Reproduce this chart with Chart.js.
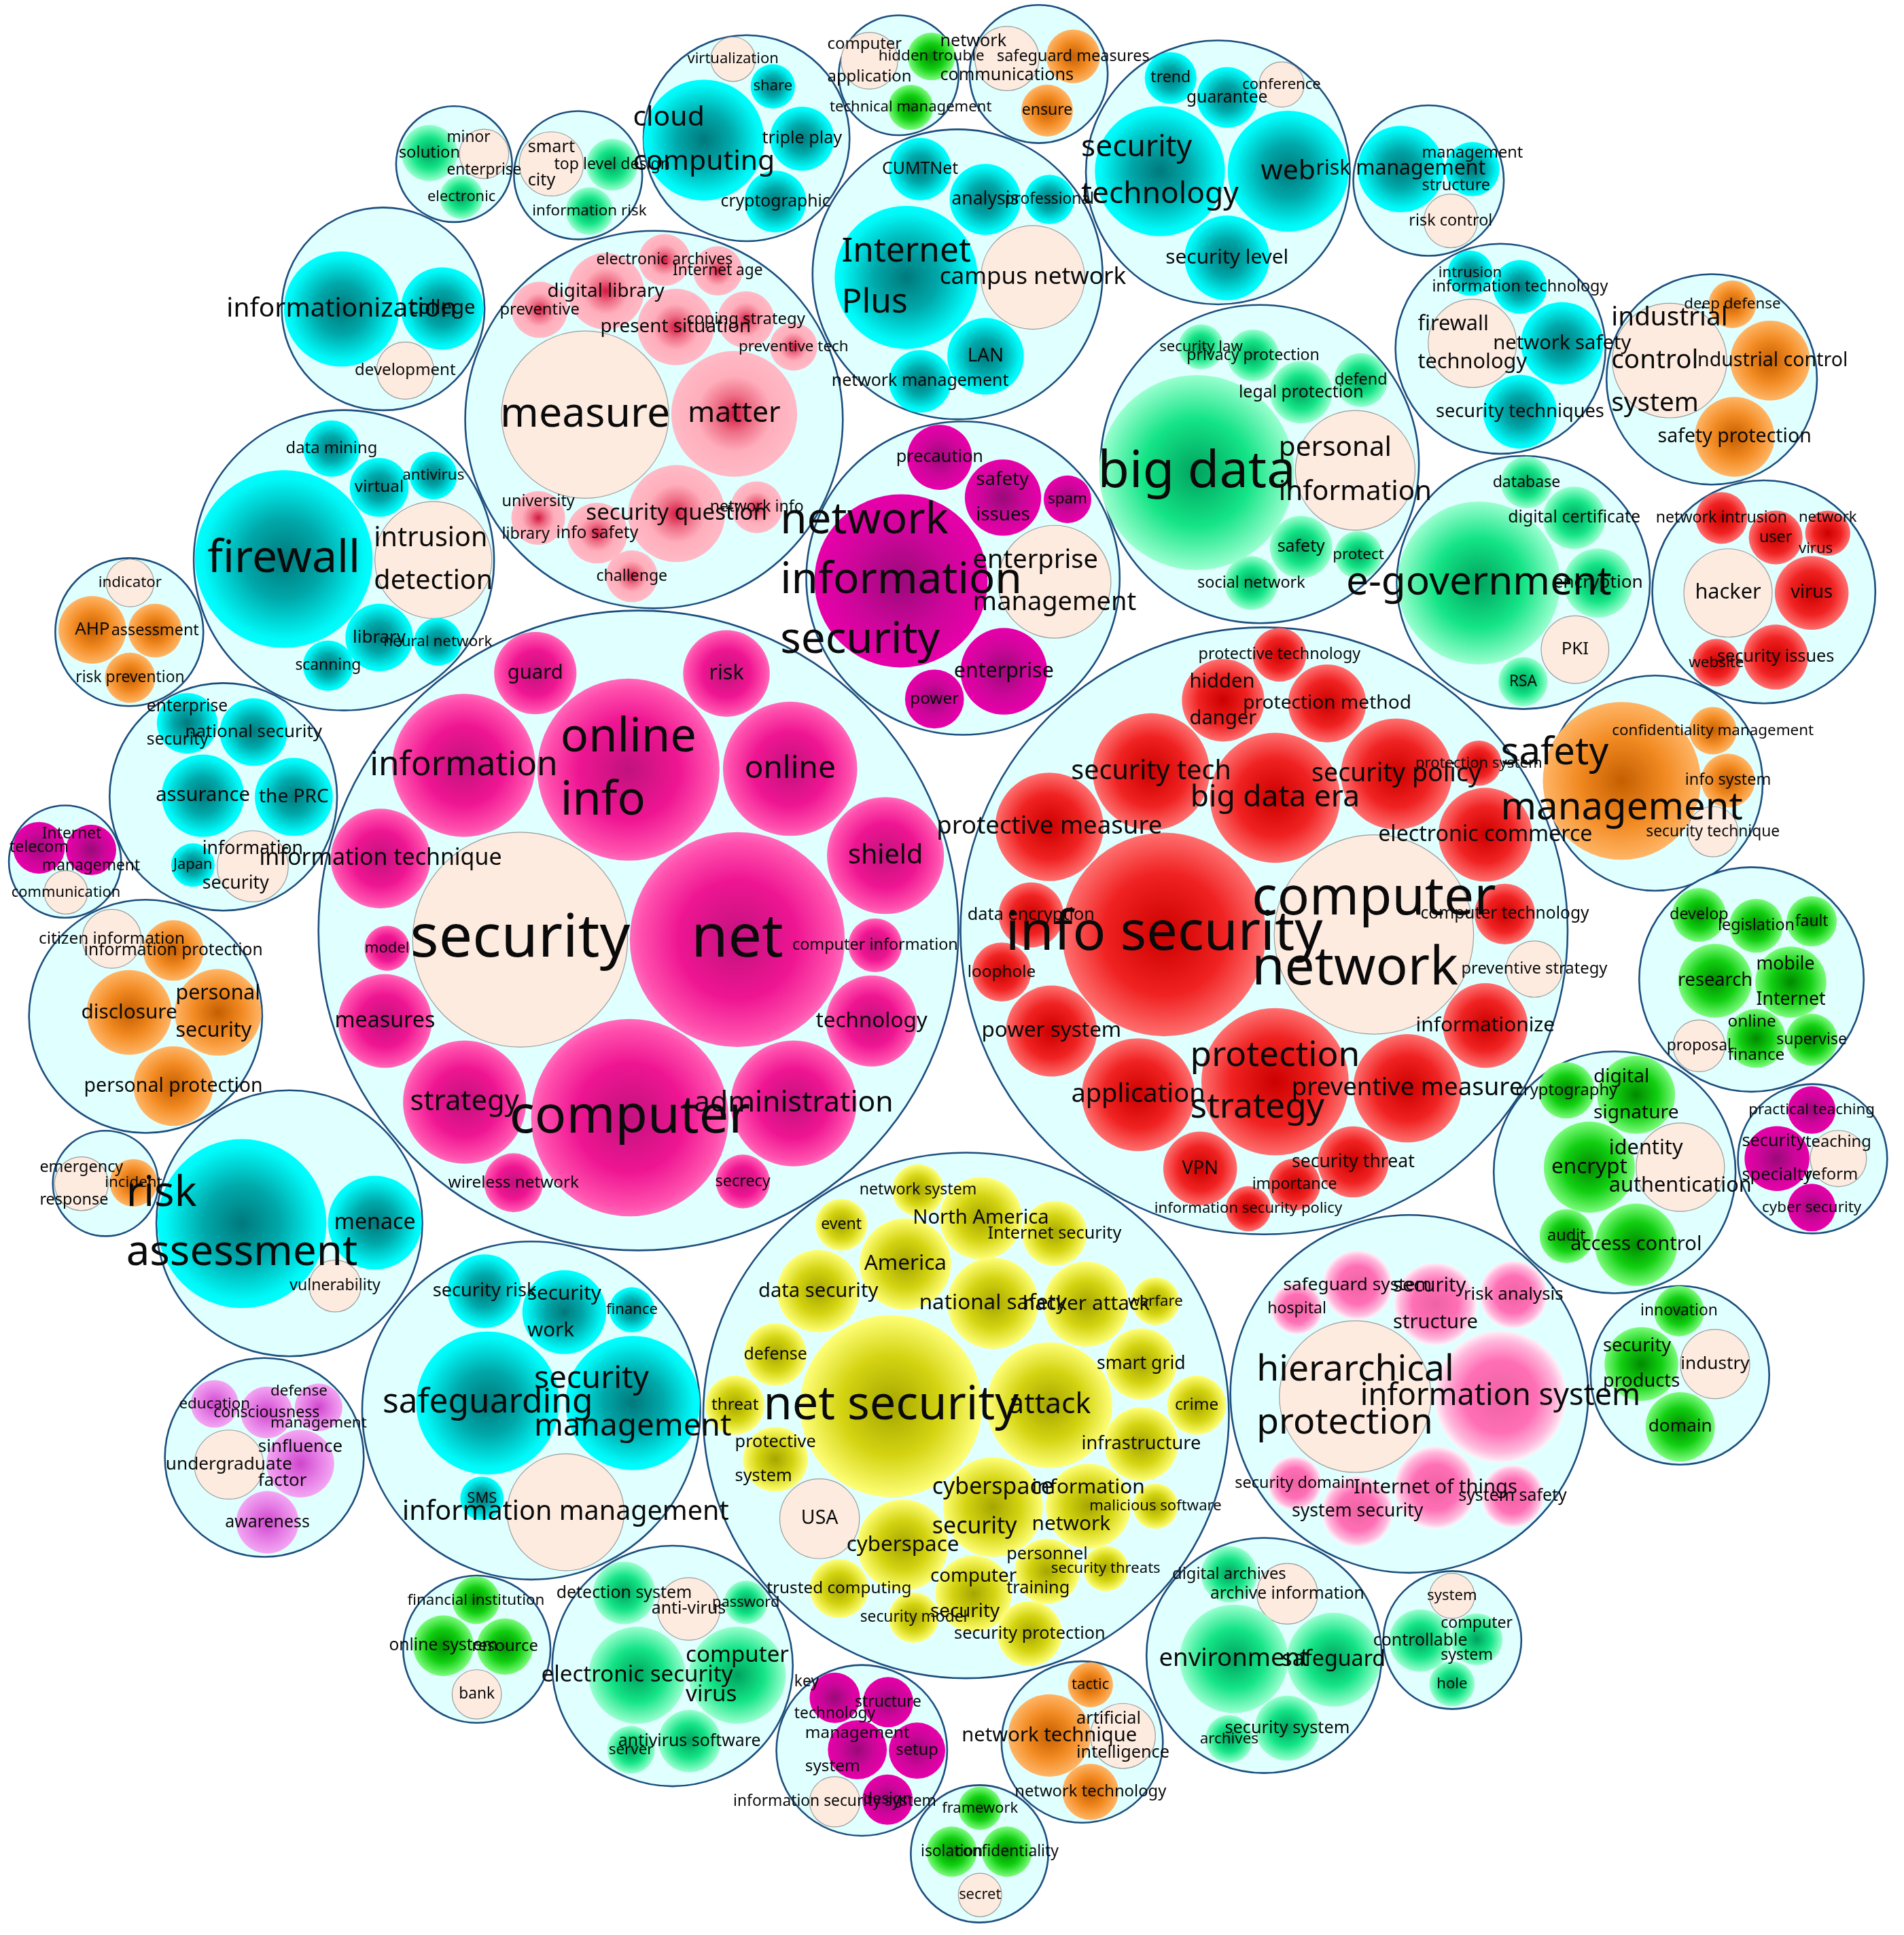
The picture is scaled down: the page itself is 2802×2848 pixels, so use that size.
<!DOCTYPE html>
<html>
<head>
<meta charset="utf-8">
<title>Keyword clusters</title>
<script src="https://cdn.jsdelivr.net/npm/chart.js@4.4.1/dist/chart.umd.min.js"></script>
<style>
  html, body { margin: 0; padding: 0; background: #fff; }
  #wrap { width: 2802px; height: 2848px; }
</style>
</head>
<body>
<div id="wrap"><canvas id="bubbleChart"></canvas></div>
<script>
// plot units: the picture read at 1543 x 1568
const X_RANGE = 1543;
const Y_RANGE = 1568;

// outer circles (one per cluster)
const clusterX = [368, 468.5, 605, 728.3, 841.7, 987, 1157.7, 776, 530, 278.7, 310.5, 104.8, 181, 52.7, 118, 85.5, 234.5, 214.2, 430.5, 386.4, 545, 698.4, 793.8, 877, 782.9, 780.4, 1020.9, 1234.5, 1429.4, 1216, 1387.2, 1024.4, 1341.3, 1419.4, 1308.5, 1468.9, 1142.1, 1361.4, 1024.4, 1177, 517.4];
const clusterY = [133, 142, 112, 61, 60, 139.7, 146.3, 222.3, 340, 454, 250.3, 512.2, 645.7, 698.2, 823.6, 959, 991.3, 1181, 1143, 1336.4, 1350, 1418.4, 1502.2, 1411.6, 1147, 468.5, 376, 472, 479.6, 282.6, 307.4, 754.3, 634.6, 793.7, 950, 939, 1129.5, 1114.5, 1341.5, 1329, 754];
const clusterR = [47, 52, 83.5, 48.6, 56, 107, 61, 117.5, 153, 121.7, 82.2, 60, 92.2, 45.5, 94.5, 42.7, 107.8, 80.6, 137, 59.7, 97.5, 69.2, 55.7, 65.4, 213, 127, 129, 102.6, 90.4, 85.1, 85.3, 246, 87.2, 91, 98, 60.5, 145, 72.4, 95.3, 55.9, 259.3];
const clusterTheme = ['spring', 'spring', 'cyan', 'green', 'orange', 'cyan', 'cyan', 'cyan', 'lightpink', 'cyan', 'cyan', 'orange', 'cyan', 'magenta', 'orange', 'orange', 'cyan', 'violet', 'cyan', 'green', 'spring', 'magenta', 'green', 'orange', 'yellow', 'magenta', 'spring', 'spring', 'red', 'cyan', 'orange', 'red', 'orange', 'green', 'green', 'magenta', 'hotpink', 'green', 'spring', 'spring', 'deeppink'];
// index of the highlighted (pale) keyword inside each cluster
const clusterHubs = [[1], [0], [1], [0], [0], [4], [2], [1], [0], [1], [2], [0], [5], [2], [0], [0], [2], [3], [6], [3], [3], [5], [3], [2], [17], [4], [1], [4], [3], [2], [0], [1, 14], [3], [5], [3], [2], [0], [2], [1], [0], [0]];

// keywords, one row per cluster
const termLabel = [
  ['solution', 'minor\nenterprise', 'electronic'],
  ['smart\ncity', 'top level design', 'information risk'],
  ['cloud\ncomputing', 'virtualization', 'share', 'triple play', 'cryptographic'],
  ['computer\napplication', 'hidden trouble', 'technical management'],
  ['network\ncommunications', 'safeguard measures', 'ensure'],
  ['security\ntechnology', 'web', 'trend', 'guarantee', 'conference', 'security level'],
  ['risk management', 'management\nstructure', 'risk control'],
  ['Internet\nPlus', 'campus network', 'CUMTNet', 'analysis', 'professional', 'LAN', 'network management'],
  ['measure', 'matter', 'digital library', 'electronic archives', 'Internet age', 'preventive', 'present situation', 'coping strategy', 'preventive tech', 'university\nlibrary', 'info safety', 'security question', 'network info', 'challenge'],
  ['firewall', 'intrusion\ndetection', 'data mining', 'virtual', 'antivirus', 'library', 'neural network', 'scanning'],
  ['informationization', 'college', 'development'],
  ['indicator', 'AHP', 'assessment', 'risk prevention'],
  ['enterprise\nsecurity', 'national security', 'assurance', 'the PRC', 'Japan', 'information\nsecurity'],
  ['telecom', 'Internet\nmanagement', 'communication'],
  ['citizen information', 'information protection', 'disclosure', 'personal\nsecurity', 'personal protection'],
  ['emergency\nresponse', 'incident'],
  ['risk\nassessment', 'menace', 'vulnerability'],
  ['education', 'consciousness', 'defense\nmanagement', 'undergraduate', 'sinfluence\nfactor', 'awareness'],
  ['safeguarding', 'security\nmanagement', 'security risk', 'security\nwork', 'finance', 'SMS', 'information management'],
  ['financial institution', 'online system', 'resource', 'bank'],
  ['electronic security', 'computer\nvirus', 'detection system', 'anti-virus', 'password', 'server', 'antivirus software'],
  ['key\ntechnology', 'structure', 'management\nsystem', 'setup', 'design', 'information security system'],
  ['framework', 'isolation', 'confidentiality', 'secret'],
  ['network technique', 'tactic', 'artificial\nintelligence', 'network technology'],
  ['net security', 'attack', 'America', 'network system', 'event', 'North America', 'Internet security', 'data security', 'national safety', 'hacker attack', 'warfare', 'defense', 'smart grid', 'threat', 'crime', 'protective\nsystem', 'infrastructure', 'USA', 'cyberspace\nsecurity', 'information\nnetwork', 'malicious software', 'cyberspace', 'personnel\ntraining', 'security threats', 'trusted computing', 'computer\nsecurity', 'security model', 'security protection'],
  ['network\ninformation\nsecurity', 'precaution', 'safety\nissues', 'spam', 'enterprise\nmanagement', 'enterprise', 'power'],
  ['big data', 'personal\ninformation', 'security law', 'privacy protection', 'legal protection', 'defend', 'safety', 'protect', 'social network'],
  ['e-government', 'database', 'digital certificate', 'encryption', 'PKI', 'RSA'],
  ['network intrusion', 'user', 'network\nvirus', 'hacker', 'virus', 'website', 'security issues'],
  ['intrusion', 'information technology', 'firewall\ntechnology', 'network safety', 'security techniques'],
  ['industrial\ncontrol\nsystem', 'deep defense', 'industrial control', 'safety protection'],
  ['info security', 'computer\nnetwork', 'protective technology', 'hidden\ndanger', 'protection method', 'security tech', 'big data era', 'security policy', 'protection system', 'protective measure', 'electronic commerce', 'data encryption', 'computer technology', 'loophole', 'preventive strategy', 'power system', 'informationize', 'protection\nstrategy', 'preventive measure', 'application', 'security threat', 'VPN', 'importance', 'information security policy'],
  ['safety\nmanagement', 'confidentiality management', 'info system', 'security technique'],
  ['develop', 'legislation', 'fault', 'research', 'mobile\nInternet', 'proposal', 'online\nfinance', 'supervise'],
  ['cryptography', 'digital\nsignature', 'encrypt', 'identity\nauthentication', 'audit', 'access control'],
  ['practical teaching', 'security\nspecialty', 'teaching\nreform', 'cyber security'],
  ['hierarchical\nprotection', 'information system', 'safeguard system', 'hospital', 'security\nstructure', 'risk analysis', 'security domain', 'Internet of things', 'system safety', 'system security'],
  ['innovation', 'security\nproducts', 'industry', 'domain'],
  ['digital archives', 'archive information', 'environment', 'safeguard', 'archives', 'security system'],
  ['system', 'controllable', 'computer\nsystem', 'hole'],
  ['security', 'net', 'online\ninfo', 'information', 'guard', 'risk', 'online', 'information technique', 'shield', 'model', 'computer information', 'measures', 'technology', 'strategy', 'computer', 'administration', 'wireless network', 'secrecy']
];
const termX = [
  [348, 392.3, 374],
  [446.8, 496, 477.7],
  [570.4, 594, 626.3, 650, 628.4],
  [704.6, 754.8, 738],
  [816, 869.7, 848.6],
  [940, 1043.9, 948.7, 994.4, 1038.6, 994.4],
  [1135.2, 1193.2, 1175.6],
  [734.4, 837, 745.7, 798.4, 850.4, 798.7, 745.7],
  [474.2, 595, 491, 538.5, 581.7, 437.3, 547.6, 604.5, 643.1, 436.2, 484, 548.3, 613.3, 512],
  [230, 351.2, 268.7, 307.3, 351.2, 307.3, 354.8, 265.9],
  [276.8, 358.3, 328.4],
  [105.4, 74.8, 125.7, 105.4],
  [151.7, 205.5, 164.4, 238.1, 156.3, 204.8],
  [31.6, 73.8, 53.4],
  [90.6, 140.5, 104.7, 176.7, 140.5],
  [66, 108.2],
  [196, 303.8, 271.5],
  [173.9, 216, 258.2, 185.5, 243.4, 216.7],
  [395.2, 512.8, 392.7, 457.3, 512.1, 390.6, 458.4],
  [385.7, 359.3, 409.2, 386.4],
  [516.3, 597.5, 505.8, 558.1, 604.5, 511.4, 558.8],
  [676.5, 719.7, 694.8, 743.2, 719.3, 676.5],
  [794.2, 771.3, 816, 794.2],
  [850.4, 883.7, 910, 883.7],
  [722.1, 850.4, 733.7, 744, 681.8, 794.9, 854.6, 663.1, 804.7, 880.2, 936.4, 628.4, 924.8, 595.7, 969.8, 628.4, 924.8, 664.2, 804.7, 882, 936.4, 731.6, 848.6, 896.1, 680, 788.9, 740.4, 834.5],
  [730.2, 761.5, 812.8, 865.1, 854.6, 813.5, 757.3],
  [969.8, 1098.3, 973.3, 1015.5, 1054.4, 1102.9, 1054.4, 1100.8, 1014],
  [1198.4, 1237.1, 1275.7, 1295, 1276.4, 1234.3],
  [1395.1, 1439, 1481.2, 1400.4, 1468.2, 1390.9, 1439],
  [1191.4, 1231.8, 1193.2, 1265.9, 1231.8],
  [1353, 1403.9, 1434.5, 1405.7],
  [943.4, 1113.4, 1036.9, 991.2, 1075.5, 932.9, 1033.3, 1131.7, 1198.4, 850.4, 1203.7, 835.6, 1219.5, 811.7, 1243.4, 852.1, 1203.7, 1033.3, 1140.5, 922.4, 1096.6, 972.6, 1049.1, 1011.6],
  [1314.3, 1388.1, 1400.4, 1388.1],
  [1376.9, 1423.2, 1468.2, 1389.9, 1451.3, 1376.9, 1423.2, 1468.2],
  [1269.5, 1325.9, 1288, 1361.7, 1269.5, 1325.9],
  [1468.2, 1440.1, 1489.8, 1468.2],
  [1098.3, 1215.9, 1100.1, 1051, 1163.3, 1226.5, 1049.3, 1163.3, 1225.8, 1100.1],
  [1360.7, 1330.2, 1389.9, 1361.7],
  [996.1, 1043.2, 1000, 1080.8, 996.1, 1043.2],
  [1176.7, 1151, 1196.7, 1176.7],
  [421.5, 597.5, 509.3, 375.8, 433.8, 588.7, 640.3, 308.4, 717.6, 313.7, 709.2, 311.9, 706.3, 376.5, 510.4, 643.1, 416.2, 602]
];
const termY = [
  [124, 124.7, 159.8],
  [132.8, 133.5, 171],
  [113.5, 48, 70, 112.4, 163.3],
  [49.2, 45.7, 87],
  [47.4, 45.7, 89.6],
  [138.7, 138.7, 63.2, 79, 68.5, 209],
  [137, 137, 179],
  [224.8, 224.8, 137, 161.6, 161.6, 288.7, 309],
  [336, 335.4, 236, 210.7, 219.5, 251, 265, 259, 281, 419.7, 432, 416.2, 411, 467],
  [453, 453.8, 363.5, 395, 385.3, 516.6, 520.1, 539.4],
  [250.4, 250, 300.3],
  [472.4, 510.4, 511, 549.2],
  [586.1, 593.2, 644.8, 645.8, 701, 702],
  [687, 688.7, 723.1],
  [760.7, 770.2, 820.4, 820.4, 880.1],
  [959.2, 958.5],
  [991.5, 990.8, 1042.1],
  [1137.6, 1144.6, 1140.4, 1186.8, 1186.1, 1233.5],
  [1136.9, 1136.9, 1046.3, 1063.2, 1061.4, 1214.2, 1225.4],
  [1296.7, 1333.6, 1334.3, 1373],
  [1357.5, 1357.5, 1290.8, 1303.8, 1298.5, 1417.9, 1410.9],
  [1375.8, 1379.3, 1417.9, 1418.6, 1458.3, 1460],
  [1465.3, 1500.5, 1500.5, 1535.6],
  [1406.3, 1365.2, 1406.7, 1452],
  [1139.4, 1138.7, 1024.3, 964.4, 992.5, 987.2, 999.5, 1046.3, 1056.1, 1056.8, 1054.4, 1097.6, 1105.3, 1138.7, 1138.7, 1182.6, 1170.3, 1230.7, 1221.2, 1220.5, 1220.5, 1252.1, 1273.2, 1271.1, 1287.3, 1291.5, 1310.8, 1323.8],
  [470.7, 370.6, 403.2, 404.6, 471.4, 544, 566.5],
  [382.9, 381.1, 281, 288, 317.9, 308, 443.3, 449.6, 472.4],
  [472.4, 390.9, 419.7, 472.4, 526.4, 552.4],
  [419.7, 435.6, 432, 480.5, 480.5, 537, 532.4],
  [221.3, 232.5, 278.2, 278.2, 333.7],
  [292.2, 246.6, 292.2, 354],
  [757.2, 757.2, 530.6, 567.5, 570, 625.4, 646.5, 627.2, 618.4, 670, 676.4, 741.4, 740.7, 787.7, 785.3, 835.5, 831, 876.6, 881.9, 887.1, 941.5, 946.9, 959.8, 979.5],
  [632.8, 592.1, 632.5, 673.9],
  [741.4, 750.2, 746.6, 794.8, 795.8, 847.5, 841.5, 842.5],
  [883.6, 887.1, 945.8, 945.8, 1001.7, 1008.7],
  [899.5, 938.8, 938.8, 978.5],
  [1131.7, 1131.7, 1041.4, 1060.4, 1056.8, 1049.1, 1201.9, 1205.4, 1212.4, 1224.7],
  [1062.5, 1105.3, 1105.3, 1156.2],
  [1275.7, 1291.5, 1344.2, 1344.9, 1409.1, 1400.4],
  [1293.2, 1329.4, 1328.4, 1364.5],
  [761.4, 761.4, 623.7, 620.2, 545.4, 545.7, 623, 695.7, 693.3, 768.4, 766, 827.4, 827.4, 893.1, 905.7, 894.2, 958.4, 957.4]
];
const termR = [
  [22.8, 20, 17.6],
  [26, 21, 19.3],
  [49, 18, 18, 26, 25],
  [23, 19.3, 18.3],
  [26, 21.8, 21],
  [52.7, 49, 21, 24.6, 18.3, 34.4],
  [35, 22, 21.8],
  [58, 42, 25.3, 28.8, 20, 31, 25.3],
  [67.8, 51, 31, 21, 20, 22.8, 31, 23, 19.3, 21.8, 24.6, 39.3, 21, 21],
  [72, 47.4, 22.8, 23.9, 19.3, 27.4, 19.3, 20.4],
  [46.7, 33.4, 23.2],
  [19.3, 27.4, 21.8, 20.4],
  [24.6, 27.4, 33.4, 31.6, 17.6, 28.8],
  [21, 20.4, 17.6],
  [23.9, 24.6, 34.4, 35.1, 32.3],
  [21.8, 19.3],
  [68.5, 38, 21],
  [19.3, 21, 19.3, 28, 27.4, 25.3],
  [58, 54.4, 29.9, 34, 18.3, 17.6, 47.4],
  [19.3, 24.6, 22.8, 20],
  [39.3, 39.3, 25.3, 25.3, 17.6, 19.3, 25.3],
  [20.4, 20.4, 23.9, 22.8, 20.4, 20.4],
  [17.6, 20.4, 20.4, 17.6],
  [33.4, 18.3, 26.3, 22.8],
  [73.8, 51, 37, 21, 21, 33.4, 26.3, 33.4, 36.9, 34.4, 19.3, 25.3, 28.8, 23.9, 23.9, 26.3, 29.9, 32.3, 40.4, 34.4, 18.3, 36.9, 26.3, 18.3, 23.9, 30.9, 20.4, 26.3],
  [70.2, 26.3, 30.9, 19.3, 45.7, 35.1, 23.9],
  [79, 48.5, 18.3, 21, 25.3, 21.8, 25.3, 19.3, 21.8],
  [66, 21, 25.3, 28, 27.4, 20],
  [21, 21.8, 18.3, 35.8, 29.9, 19.3, 26.3],
  [18.3, 21.8, 35.8, 33.4, 29.9],
  [46.4, 19.3, 32.3, 32.3],
  [82.5, 80.8, 21.8, 33.4, 31.6, 47.4, 52.7, 45, 18.3, 43.9, 38, 26.3, 24.6, 23.9, 22.8, 36.9, 34.4, 59.7, 43.9, 45.7, 28.8, 29.9, 21, 18.3],
  [64, 19.3, 21.8, 20.4],
  [21.8, 21.8, 20.4, 29.9, 28.8, 21, 23.9, 21],
  [22.8, 31.6, 36.9, 35.8, 21.8, 33.4],
  [19.3, 26.3, 22.8, 19.3],
  [61.5, 53.4, 28.1, 21, 33.4, 27.4, 21.8, 33.4, 25.3, 28.8],
  [20.4, 29.9, 28.1, 28.1],
  [22.8, 24.6, 43.9, 38, 19.3, 26.3],
  [18.3, 25.3, 21, 18.3],
  [87.1, 87.1, 73.8, 58, 33.4, 35.1, 54.4, 40.4, 47.4, 18.3, 21.8, 38, 36.9, 49.9, 80, 51, 23.9, 21.8]
];

// colour ramps: centre -> rim
const THEMES = {
  cyan:      [[0, '#00797c'], [0.45, '#00a8aa'], [0.8, '#00e6e6'], [0.9, '#00f8f8'], [1, '#00ffff']],
  deeppink:  [[0, '#c1127e'], [0.55, '#ef1592'], [0.9, '#ff4fad'], [1, '#ff6cbc']],
  lightpink: [[0, '#d5173f'], [0.3, '#ee7088'], [0.6, '#ffaebb'], [1, '#ffbac6']],
  red:       [[0, '#cc0000'], [0.6, '#f02222'], [1, '#ff7070']],
  yellow:    [[0, '#a5a500'], [0.55, '#d4d412'], [1, '#ffff7a']],
  spring:    [[0, '#00a25e'], [0.55, '#14e486'], [1, '#9affcf']],
  green:     [[0, '#008a00'], [0.55, '#11cf11'], [1, '#7dfb7d']],
  orange:    [[0, '#c45e00'], [0.55, '#f28a22'], [1, '#ffb566']],
  magenta:   [[0, '#990a78'], [0.55, '#cc069a'], [1, '#e800aa']],
  violet:    [[0, '#cf45cc'], [0.55, '#e57ce5'], [1, '#f3a6f3']],
  hotpink:   [[0, '#ee62a4'], [0.55, '#ff6fb5'], [0.85, '#ffb8dc'], [1, '#fff2f9']]
};
const PEACH = '#fdebe0';
const FONT = '"Noto Sans", "Open Sans", sans-serif';

const W = 2802;
const PX = W / X_RANGE; // pixels per plot unit

// flatten rows
const flatLabel = termLabel.flat();
const flatR = termR.flat();
const flatTheme = [];
const flatHub = [];
termLabel.forEach((row, c) => {
  row.forEach((_, k) => {
    flatTheme.push(clusterTheme[c]);
    flatHub.push(clusterHubs[c].includes(k));
  });
});
const termPoints = termX.flat().map((x, i) => ({ x: x, y: termY.flat()[i], r: flatR[i] * PX }));
const clusterPoints = clusterX.map((x, i) => ({ x: x, y: clusterY[i], r: clusterR[i] * PX }));

function termFill(ctx) {
    const i = ctx.dataIndex;
    if (flatHub[i]) return PEACH;
    const chart = ctx.chart;
    const p = ctx.raw;
    const px = chart.scales.x.getPixelForValue(p.x);
    const py = chart.scales.y.getPixelForValue(p.y);
    if (!isFinite(px) || !isFinite(py)) return THEMES[flatTheme[i]][1][1];
    const g = chart.ctx.createRadialGradient(px, py, 0, px, py, p.r);
    THEMES[flatTheme[i]].forEach(([o, c]) => g.addColorStop(o, c));
    return g;
}

// labels on top of every bubble
const termLabels = {
    id: 'termLabels',
    afterDatasetsDraw(chart) {
        const meta = chart.getDatasetMeta(0);
        const g = chart.ctx;
        g.save();
        g.fillStyle = '#0a0a0a';
        g.textBaseline = 'middle';
        g.textAlign = 'left';
        meta.data.forEach((el, i) => {
            const r = flatR[i];
            const fs = (10.5 + 0.005 * r * r) * PX;
            const gap = fs + 13.5 * PX;
            g.font = fs.toFixed(1) + 'px ' + FONT;
            const lines = flatLabel[i].split('\n');
            const w = Math.max(...lines.map(l => g.measureText(l).width));
            const y0 = el.y - (lines.length - 1) * gap / 2;
            lines.forEach((l, k) => g.fillText(l, el.x - w / 2, y0 + k * gap));
        });
        g.restore();
    }
};

new Chart(document.getElementById('bubbleChart'), {
    type: 'bubble',
    data: {
        datasets: [
            {
                label: 'keywords',
                data: termPoints,
                order: 1,
                backgroundColor: termFill,
                borderColor: '#9c9c9c',
                borderWidth: ctx => (flatHub[ctx.dataIndex] ? 1.2 : 0)
            },
            {
                label: 'clusters',
                data: clusterPoints,
                order: 2,
                backgroundColor: '#e0ffff',
                borderColor: '#1d4f7d',
                borderWidth: 2.6
            }
        ]
    },
    options: {
        responsive: true,
        maintainAspectRatio: false,
        devicePixelRatio: 1,
        animation: false,
        events: [],
        layout: { padding: 0, autoPadding: false },
        plugins: {
            legend: { display: false },
            tooltip: { enabled: false }
        },
        scales: {
            x: { type: 'linear', min: 0, max: X_RANGE, display: false },
            y: { type: 'linear', min: 0, max: Y_RANGE, reverse: true, display: false }
        }
    },
    plugins: [termLabels]
});
</script>
</body>
</html>
